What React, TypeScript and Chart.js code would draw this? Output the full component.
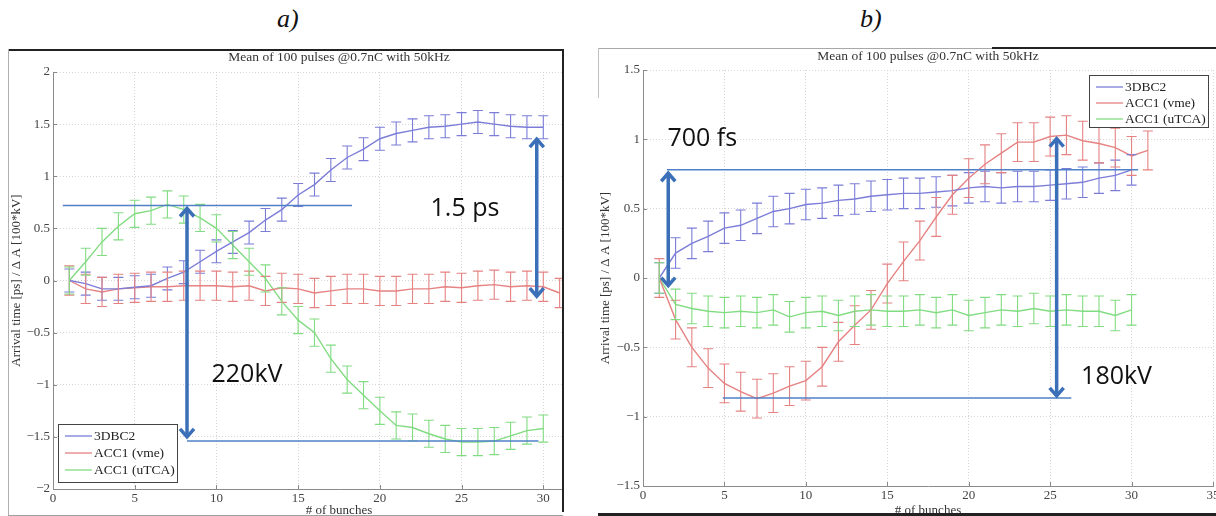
import React, { useEffect, useRef } from "react";
import { Chart, registerables } from "chart.js";

Chart.register(...registerables);

// ---------- data (panel a) ----------
const bunchesA30 = [1, 2, 3, 4, 5, 6, 7, 8, 9, 10, 11, 12, 13, 14, 15, 16, 17, 18, 19, 20, 21, 22, 23, 24, 25, 26, 27, 28, 29, 30];
const bunchesA31 = [1, 2, 3, 4, 5, 6, 7, 8, 9, 10, 11, 12, 13, 14, 15, 16, 17, 18, 19, 20, 21, 22, 23, 24, 25, 26, 27, 28, 29, 30, 31];
const dbc2A = [0, -0.03, -0.08, -0.08, -0.065, -0.05, 0.02, 0.08, 0.18, 0.28, 0.37, 0.46, 0.58, 0.68, 0.82, 0.92, 1.06, 1.18, 1.26, 1.36, 1.41, 1.44, 1.47, 1.48, 1.5, 1.52, 1.5, 1.48, 1.47, 1.47];
const vmeA = [0, -0.08, -0.11, -0.08, -0.07, -0.06, -0.06, -0.05, -0.05, -0.05, -0.06, -0.05, -0.1, -0.07, -0.08, -0.12, -0.1, -0.08, -0.08, -0.1, -0.1, -0.08, -0.08, -0.06, -0.07, -0.05, -0.04, -0.06, -0.05, -0.06, -0.12];
const utcaA = [0, 0.18, 0.37, 0.52, 0.64, 0.67, 0.73, 0.68, 0.6, 0.5, 0.34, 0.18, 0.02, -0.2, -0.38, -0.5, -0.75, -0.95, -1.1, -1.25, -1.39, -1.41, -1.47, -1.52, -1.55, -1.55, -1.54, -1.49, -1.44, -1.42];
const errA = [0.11, 0.14, 0.13]; // 3DBC2, ACC1 (vme), ACC1 (uTCA)
// annotations: [xStart, xEnd, y], [x, yTop, yBottom], [text, x, y]
const guidesA = [[0.6, 18.3, 0.72], [8.2, 29.7, -1.54]];
const arrowsA = [[8.2, 0.71, -1.52], [29.6, 1.375, -0.17]];
const notesA: [string, number, number][] = [["1.5 ps", 23.1, 0.69], ["220kV", 9.7, -0.91]];

// ---------- data (panel b) ----------
const bunchesB30 = [1, 2, 3, 4, 5, 6, 7, 8, 9, 10, 11, 12, 13, 14, 15, 16, 17, 18, 19, 20, 21, 22, 23, 24, 25, 26, 27, 28, 29, 30];
const bunchesB31 = [1, 2, 3, 4, 5, 6, 7, 8, 9, 10, 11, 12, 13, 14, 15, 16, 17, 18, 19, 20, 21, 22, 23, 24, 25, 26, 27, 28, 29, 30, 31];
const dbc2B = [0, 0.18, 0.25, 0.3, 0.36, 0.38, 0.43, 0.48, 0.5, 0.53, 0.54, 0.56, 0.57, 0.59, 0.6, 0.61, 0.61, 0.62, 0.63, 0.65, 0.66, 0.65, 0.66, 0.66, 0.67, 0.68, 0.69, 0.72, 0.74, 0.78];
const vmeB = [0, -0.3, -0.5, -0.65, -0.76, -0.82, -0.87, -0.83, -0.78, -0.74, -0.64, -0.46, -0.34, -0.23, -0.04, 0.12, 0.27, 0.44, 0.6, 0.72, 0.82, 0.9, 0.98, 0.98, 1.02, 1.03, 0.99, 0.97, 0.94, 0.88, 0.92];
const utcaB = [0, -0.19, -0.22, -0.24, -0.25, -0.24, -0.25, -0.23, -0.28, -0.25, -0.24, -0.27, -0.24, -0.23, -0.24, -0.24, -0.23, -0.25, -0.23, -0.27, -0.25, -0.23, -0.24, -0.22, -0.24, -0.23, -0.24, -0.24, -0.27, -0.23];
const errB = [0.11, 0.14, 0.11];
const guidesB = [[1.47, 30.4, 0.78], [4.9, 26.3, -0.865]];
const arrowsB = [[1.55, 0.77, -0.07], [25.4, 1.02, -0.865]];
const notesB: [string, number, number][] = [["700 fs", 1.5, 1.0], ["180kV", 26.9, -0.71]];

const seriesNames = ["3DBC2", "ACC1 (vme)", "ACC1 (uTCA)"];
const titleText = "Mean of 100 pulses @0.7nC with 50kHz";
const xTitle = "# of bunches";
const yTitle = "Arrival time [ps] / \u0394 A [100*kV]";
const xTicksMax = 35;

const COLORS = ["#7b7dd8", "#e68282", "#82dc82"];
const SERIF = '"Liberation Serif", "Times New Roman", serif';

type PanelCfg = {
  w: number;
  h: number;
  yMin: number;
  yMax: number;
  xs: number[][];
  ys: number[][];
  errs: number[];
  guides: number[][];
  arrows: number[][];
  notes: [string, number, number][];
  legend: "bl" | "tr";
  padTop: number;
  padRight: number;
  yAxisW: number;
  xAxisH: number;
  titleY: number;
  yTitlePad: number;
};

function fmt(v: number) {
  const s = String(Math.round(v * 100) / 100);
  return v < 0 ? "\u2212" + s.slice(1) : s;
}

function makeOverlay(p: PanelCfg) {
  return {
    id: "overlay",
    afterDatasetsDraw(chart: any) {
      const { ctx, chartArea: ca } = chart;
      const x = chart.scales.x;
      const y = chart.scales.y;
      // error bars
      chart.data.datasets.forEach((ds: any) => {
        ctx.save();
        ctx.strokeStyle = ds.borderColor;
        ctx.lineWidth = 1.1;
        ctx.beginPath();
        ds.data.forEach((pt: any) => {
          const px = x.getPixelForValue(pt.x);
          const y1 = y.getPixelForValue(pt.y + ds.err);
          const y2 = y.getPixelForValue(pt.y - ds.err);
          ctx.moveTo(px, y1);
          ctx.lineTo(px, y2);
          ctx.moveTo(px - 5, y1);
          ctx.lineTo(px + 5, y1);
          ctx.moveTo(px - 5, y2);
          ctx.lineTo(px + 5, y2);
        });
        ctx.stroke();
        ctx.restore();
      });
      // inward tick marks
      ctx.save();
      ctx.strokeStyle = "#8a8a8a";
      ctx.lineWidth = 1;
      ctx.beginPath();
      x.ticks.forEach((t: any) => {
        const px = Math.round(x.getPixelForValue(t.value)) + 0.5;
        ctx.moveTo(px, ca.bottom);
        ctx.lineTo(px, ca.bottom - 4);
      });
      y.ticks.forEach((t: any) => {
        const py = Math.round(y.getPixelForValue(t.value)) + 0.5;
        ctx.moveTo(ca.left, py);
        ctx.lineTo(ca.left + 4, py);
      });
      ctx.stroke();
      ctx.restore();
      // title
      ctx.save();
      ctx.font = "13.5px " + SERIF;
      ctx.fillStyle = "#333";
      ctx.textAlign = "center";
      ctx.textBaseline = "middle";
      ctx.fillText(titleText, (ca.left + ca.right) / 2, p.titleY);
      ctx.restore();
      // guide lines
      ctx.save();
      ctx.strokeStyle = "#4f80c8";
      ctx.lineWidth = 1.5;
      p.guides.forEach(([x1, x2, gy]) => {
        const py = y.getPixelForValue(gy);
        ctx.beginPath();
        ctx.moveTo(x.getPixelForValue(x1), py);
        ctx.lineTo(x.getPixelForValue(x2), py);
        ctx.stroke();
      });
      ctx.restore();
      // arrows
      ctx.save();
      ctx.strokeStyle = "#3b70b8";
      ctx.lineWidth = 3.5;
      ctx.lineJoin = "miter";
      p.arrows.forEach(([ax, yt, yb]) => {
        const px = x.getPixelForValue(ax);
        const pt = y.getPixelForValue(yt);
        const pb = y.getPixelForValue(yb);
        ctx.beginPath();
        ctx.moveTo(px, pt + 2);
        ctx.lineTo(px, pb - 2);
        ctx.stroke();
        ctx.beginPath();
        ctx.moveTo(px - 7, pt + 10);
        ctx.lineTo(px, pt + 2);
        ctx.lineTo(px + 7, pt + 10);
        ctx.moveTo(px - 7, pb - 10);
        ctx.lineTo(px, pb - 2);
        ctx.lineTo(px + 7, pb - 10);
        ctx.stroke();
      });
      ctx.restore();
      // notes
      ctx.save();
      ctx.font = '25px "Open Sans", "Liberation Sans", sans-serif';
      ctx.fillStyle = "#111";
      ctx.textAlign = "left";
      ctx.textBaseline = "middle";
      p.notes.forEach(([t, nx, ny]) => {
        ctx.fillText(t, x.getPixelForValue(nx), y.getPixelForValue(ny));
      });
      ctx.restore();
      // legend
      ctx.save();
      const bw = 119;
      const bh = p.legend === "bl" ? 58 : 52;
      const step = p.legend === "bl" ? 17 : 16;
      const bx = p.legend === "bl" ? ca.left + 5 : ca.right - 5 - bw;
      const by = p.legend === "bl" ? ca.bottom - 7 - bh : ca.top + 5;
      ctx.fillStyle = "#fff";
      ctx.fillRect(bx, by, bw, bh);
      ctx.strokeStyle = "#444";
      ctx.lineWidth = 1;
      ctx.strokeRect(bx + 0.5, by + 0.5, bw, bh);
      ctx.font = "13.5px " + SERIF;
      ctx.textBaseline = "middle";
      ctx.textAlign = "left";
      seriesNames.forEach((name, i) => {
        const ly = by + 12 + i * step;
        ctx.strokeStyle = COLORS[i];
        ctx.lineWidth = 1.3;
        ctx.beginPath();
        ctx.moveTo(bx + 7, ly);
        ctx.lineTo(bx + 34, ly);
        ctx.stroke();
        ctx.fillStyle = "#222";
        ctx.fillText(name, bx + 36, ly);
      });
      ctx.restore();
    },
  };
}

function buildConfig(p: PanelCfg): any {
  const datasets = seriesNames.map((name, i) => ({
    label: name,
    data: p.xs[i].map((xv, k) => ({ x: xv, y: p.ys[i][k] })),
    err: p.errs[i],
    borderColor: COLORS[i],
    backgroundColor: COLORS[i],
    borderWidth: 1.4,
    pointRadius: 0,
    tension: 0,
    fill: false,
  }));
  const tickFont = { family: SERIF, size: 13 };
  return {
    type: "line",
    data: { datasets },
    options: {
      responsive: false,
      animation: false,
      devicePixelRatio: 1,
      layout: { padding: { left: 0, right: p.padRight, top: p.padTop, bottom: 0 } },
      plugins: { legend: { display: false }, tooltip: { enabled: false }, title: { display: false } },
      scales: {
        x: {
          type: "linear",
          min: 0,
          max: xTicksMax,
          afterFit(s: any) {
            s.height = p.xAxisH;
            s.paddingLeft = 0;
            s.paddingRight = 0;
          },
          ticks: { stepSize: 5, padding: 2, font: tickFont, color: "#444", maxRotation: 0, autoSkip: false },
          grid: { color: "#d6d6d6", drawTicks: false, lineWidth: 1 },
          border: { color: "#8a8a8a", width: 1, dash: [1, 2] },
          title: {
            display: true,
            text: xTitle,
            font: { family: SERIF, size: 13, lineHeight: 1 },
            color: "#333",
            padding: { top: 0, bottom: -1 },
          },
        },
        y: {
          type: "linear",
          min: p.yMin,
          max: p.yMax,
          afterFit(s: any) {
            s.width = p.yAxisW;
            s.paddingTop = 0;
            s.paddingBottom = 0;
          },
          ticks: { stepSize: 0.5, padding: 3, font: tickFont, color: "#444", callback: (v: number) => fmt(v) },
          grid: { color: "#d6d6d6", drawTicks: false, lineWidth: 1 },
          border: { color: "#8a8a8a", width: 1, dash: [1, 2] },
          title: {
            display: true,
            text: yTitle,
            font: { family: SERIF, size: 13, lineHeight: 1.2 },
            color: "#333",
            padding: { top: p.yTitlePad, bottom: 0 },
          },
        },
      },
    },
    plugins: [makeOverlay(p)],
  };
}

const panelA: PanelCfg = {
  w: 620,
  h: 467,
  yMin: -2,
  yMax: 2,
  xs: [bunchesA30, bunchesA31, bunchesA30],
  ys: [dbc2A, vmeA, utcaA],
  errs: errA,
  guides: guidesA,
  arrows: arrowsA,
  notes: notesA,
  legend: "bl",
  padTop: 23,
  padRight: 3,
  yAxisW: 45,
  xAxisH: 27,
  titleY: 8,
  yTitlePad: 1,
};

const panelB: PanelCfg = {
  w: 618,
  h: 468,
  yMin: -1.5,
  yMax: 1.5,
  xs: [bunchesB30, bunchesB31, bunchesB30],
  ys: [dbc2B, vmeB, utcaB],
  errs: errB,
  guides: guidesB,
  arrows: arrowsB,
  notes: notesB,
  legend: "tr",
  padTop: 22,
  padRight: 3,
  yAxisW: 45,
  xAxisH: 30,
  titleY: 8,
  yTitlePad: 0,
};

function PanelChart({ cfg }: { cfg: PanelCfg }) {
  const ref = useRef<HTMLCanvasElement>(null);
  useEffect(() => {
    const chart = new Chart(ref.current as HTMLCanvasElement, buildConfig(cfg));
    return () => chart.destroy();
  }, [cfg]);
  return (
    <canvas
      ref={ref}
      width={cfg.w}
      height={cfg.h}
      style={{ position: "absolute", left: 0, top: 0, width: cfg.w, height: cfg.h }}
    />
  );
}

const abs = (l: number, t: number, w: number, h: number, bg: string): React.CSSProperties => ({
  position: "absolute",
  left: l,
  top: t,
  width: w,
  height: h,
  background: bg,
});

const panelLabel = (l: number): React.CSSProperties => ({
  position: "absolute",
  left: l,
  top: 4,
  fontFamily: SERIF,
  fontStyle: "italic",
  fontSize: 26,
  color: "#111",
});

export default function App() {
  return (
    <div style={{ position: "absolute", left: 0, top: 0, width: 1216, height: 516, overflow: "hidden", background: "#fff" }}>
      <div style={panelLabel(277)}>a)</div>
      <div style={panelLabel(860)}>b)</div>
      <div style={{ position: "absolute", left: 8, top: 49, width: 555, height: 467, overflow: "hidden" }}>
        <PanelChart cfg={panelA} />
      </div>
      <div style={{ position: "absolute", left: 598, top: 48, width: 618, height: 468, overflow: "hidden" }}>
        <PanelChart cfg={panelB} />
      </div>
      {/* frames */}
      <div style={abs(8, 49, 555, 2, "#222")} />
      <div style={abs(562, 49, 2, 463, "#222")} />
      <div style={abs(8, 49, 1, 467, "#b0b0b0")} />
      <div style={abs(8, 515, 555, 1, "#a0a0a0")} />
      <div style={abs(598, 48, 394, 1, "#a8a8a8")} />
      <div style={abs(992, 47, 224, 2, "#222")} />
      <div style={abs(598, 48, 1, 50, "#c0c0c0")} />
      <div style={abs(598, 513, 618, 3, "#222")} />
    </div>
  );
}
